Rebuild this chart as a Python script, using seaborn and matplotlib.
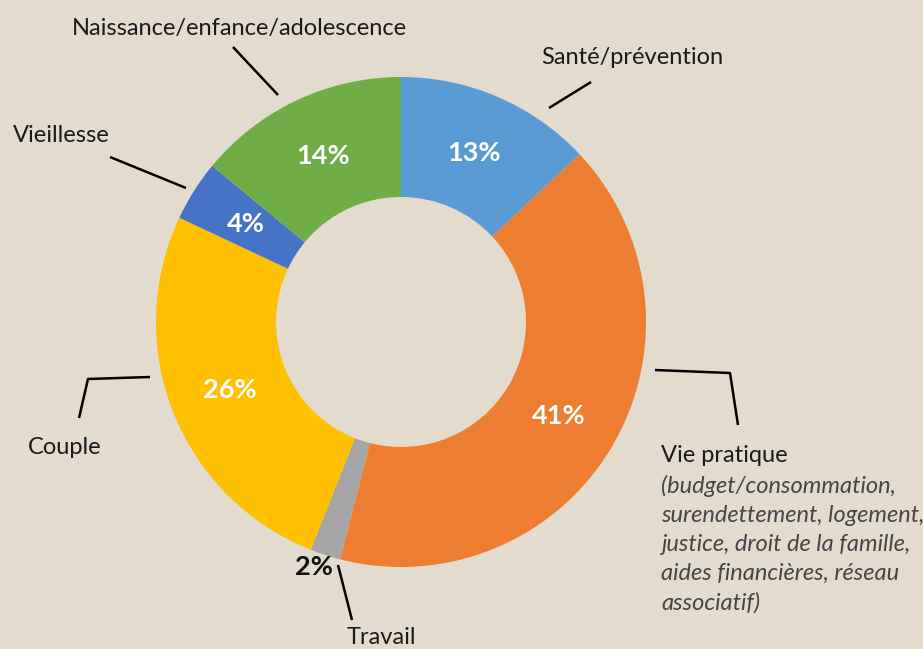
"""Répartition des demandes par thème (anneau)."""

import matplotlib.pyplot as plt
import seaborn as sns

categories = ["Santé/prévention", "Vie pratique", "Travail", "Couple",
              "Vieillesse", "Naissance/enfance/adolescence"]
shares = [13, 41, 2, 26, 4, 14]
colors = ["#5B9BD5", "#ED7D31", "#A5A5A5", "#FFC000", "#4472C4", "#70AD47"]
vie_pratique_detail = ("(budget/consommation,\nsurendettement, logement,\n"
                       "justice, droit de la famille,\naides financières, réseau\n"
                       "associatif)")

bg = "#E2DBCE"
sns.set_theme(style="white")
plt.rcParams["font.family"] = ["Lato", "DejaVu Sans"]

W, H = 923, 649
fig = plt.figure(figsize=(W / 100, H / 100), dpi=100)
fig.patch.set_facecolor(bg)
ax = fig.add_axes([0, 0, 1, 1])
ax.set_facecolor(bg)


def px(x, y):
    # pixel coords (origin top-left) -> data coords
    return x, H - y


cx, cy = px(401, 322)
wedges, texts, autotexts = ax.pie(
    shares, colors=colors, startangle=90, counterclock=False,
    center=(cx, cy), radius=245,
    wedgeprops=dict(width=120, linewidth=0),
    autopct=lambda p: f"{p:.0f}%", pctdistance=0.75,
    textprops=dict(color="white", fontsize=19.5, fontweight="bold"),
)

# small slice: label outside, in black
autotexts[2].set_position(px(314, 567))
autotexts[2].set_color("#111111")

ax.set_xlim(0, W)
ax.set_ylim(0, H)
ax.set_aspect("equal")
ax.axis("off")

line_kw = dict(color="black", lw=1.8, solid_capstyle="butt")
leaders = [
    [(549, 108), (591, 82)],
    [(655, 370), (730, 373), (738, 425)],
    [(338, 565), (352, 620)],
    [(150, 377), (88, 379), (79, 418)],
    [(186, 188), (110, 157)],
    [(278, 95), (233, 47)],
]
for pts in leaders:
    xs, ys = zip(*[px(x, y) for x, y in pts])
    ax.plot(xs, ys, **line_kw)

txt_kw = dict(fontsize=17, color="#1A1A1A", va="center")
ax.text(*px(632, 57), categories[0], ha="center", **txt_kw)
ax.text(*px(661, 456), categories[1], ha="left", **txt_kw)
ax.text(*px(381, 638), categories[2], ha="center", **txt_kw)
ax.text(*px(65, 447), categories[3], ha="center", **txt_kw)
ax.text(*px(61, 136), categories[4], ha="center", **txt_kw)
ax.text(*px(239, 28), categories[5], ha="center", **txt_kw)
ax.text(*px(661, 475), vie_pratique_detail, ha="left", va="top",
        fontsize=17, style="italic", color="#454545", linespacing=1.47)

fig.savefig("out.png", dpi=100, facecolor=bg)
